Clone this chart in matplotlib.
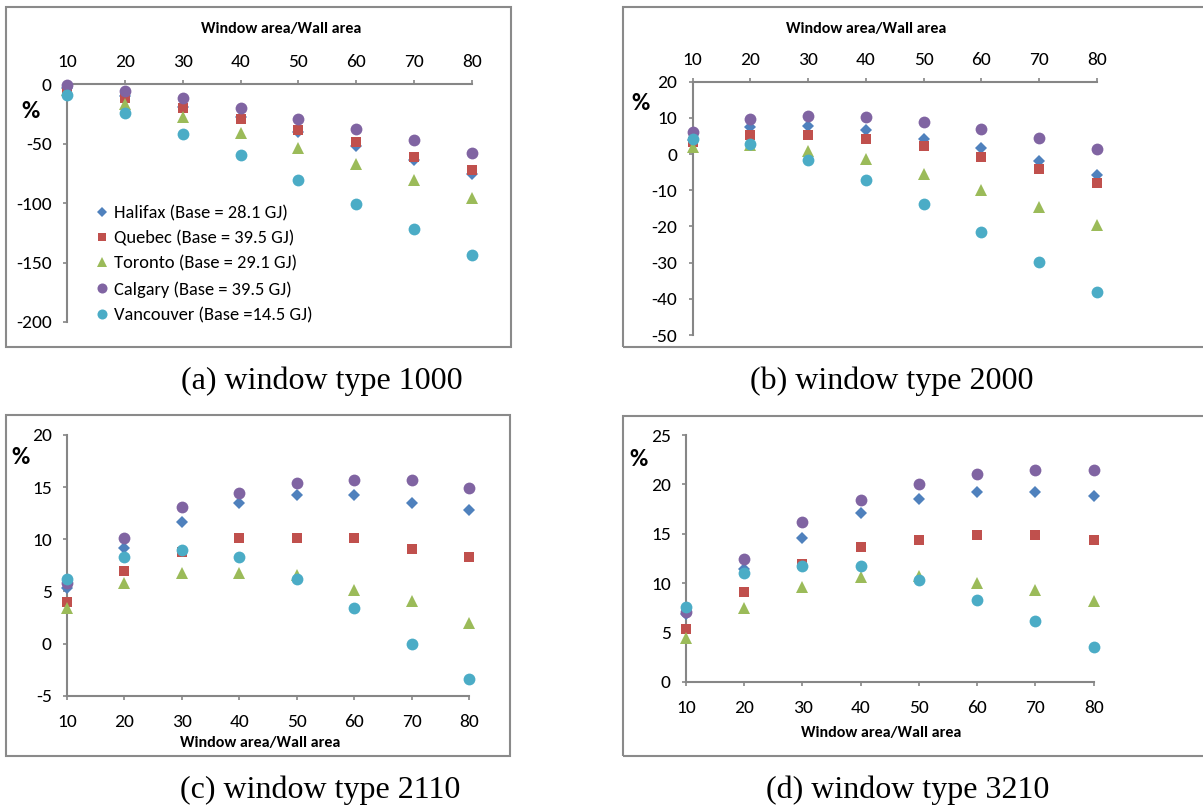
import matplotlib
matplotlib.use("Agg")
import matplotlib.pyplot as plt
from matplotlib.patches import Rectangle

W, H = 1203, 808
plt.rcParams['font.family'] = ['Carlito', 'Lato', 'DejaVu Sans']
plt.rcParams['axes.unicode_minus'] = False

x = [10, 20, 30, 40, 50, 60, 70, 80]
cities = ["Halifax (Base = 28.1 GJ)", "Quebec (Base = 39.5 GJ)", "Toronto (Base = 29.1 GJ)",
          "Calgary (Base = 39.5 GJ)", "Vancouver (Base =14.5 GJ)"]

# (a) window type 1000
a_halifax = [-3, -10, -19, -28, -40, -52, -64, -76]
a_quebec = [-4, -12, -20, -29, -39, -49, -61, -72]
a_toronto = [-5, -17, -28, -41, -54, -67, -81, -96]
a_calgary = [-1, -6, -12, -20, -29, -38, -47, -58]
a_vancouver = [-9, -24, -42, -60, -81, -101, -122, -144]

# (b) window type 2000
b_halifax = [4, 7.5, 7.8, 6.6, 4.2, 1.7, -1.9, -5.7]
b_quebec = [3.3, 5.2, 5.2, 4.1, 2.1, -0.9, -4.0, -7.9]
b_toronto = [2.0, 2.4, 0.9, -1.5, -5.5, -9.8, -14.5, -19.7]
b_calgary = [6.0, 9.6, 10.6, 10.3, 9.0, 7.0, 4.5, 1.4]
b_vancouver = [4.2, 2.7, -1.6, -7.1, -13.9, -21.5, -29.8, -38.1]

# (c) window type 2110
c_halifax = [5.3, 9.2, 11.7, 13.5, 14.2, 14.2, 13.5, 12.8]
c_quebec = [4.0, 7.0, 8.8, 10.1, 10.1, 10.1, 9.1, 8.3]
c_toronto = [3.4, 5.8, 6.8, 6.8, 6.6, 5.1, 4.1, 2.0]
c_calgary = [5.8, 10.1, 13.1, 14.4, 15.4, 15.7, 15.7, 14.9]
c_vancouver = [6.2, 8.3, 9.0, 8.3, 6.2, 3.4, 0.0, -3.4]

# (d) window type 3210
d_halifax = [6.9, 11.4, 14.6, 17.1, 18.5, 19.2, 19.2, 18.8]
d_quebec = [5.3, 9.1, 11.9, 13.7, 14.4, 14.9, 14.9, 14.4]
d_toronto = [4.4, 7.5, 9.6, 10.6, 10.7, 10.0, 9.3, 8.2]
d_calgary = [7.1, 12.4, 16.2, 18.4, 20.0, 21.0, 21.5, 21.5]
d_vancouver = [7.6, 11.0, 11.7, 11.7, 10.3, 8.3, 6.2, 3.5]

panels = [
    dict(series=[a_halifax, a_quebec, a_toronto, a_calgary, a_vancouver],
         box=(67, 472, 84, 322), ylim=(-200, 0), yticks=[0, -50, -100, -150, -200],
         top=True, frame=(6, 7, 511, 347), cap="(a) window type 1000", capxy=(322, 381),
         pct=(31, 112), xl=(281, 29)),
    dict(series=[b_halifax, b_quebec, b_toronto, b_calgary, b_vancouver],
         box=(692.7, 1096.7, 81.7, 335), ylim=(-50, 20), yticks=[20, 10, 0, -10, -20, -30, -40, -50],
         top=True, frame=(623, 7, 1215, 347), cap="(b) window type 2000", capxy=(892, 381),
         pct=(641, 103), xl=(866, 29)),
    dict(series=[c_halifax, c_quebec, c_toronto, c_calgary, c_vancouver],
         box=(67, 469, 435, 695.7), ylim=(-5, 20), yticks=[20, 15, 10, 5, 0, -5],
         top=False, frame=(6, 415, 510, 756), cap="(c) window type 2110", capxy=(320, 790),
         pct=(21, 458), xl=(260, 743)),
    dict(series=[d_halifax, d_quebec, d_toronto, d_calgary, d_vancouver],
         box=(686, 1093.7, 435, 681.7), ylim=(0, 25), yticks=[25, 20, 15, 10, 5, 0],
         top=False, frame=(623, 416, 1215, 756), cap="(d) window type 3210", capxy=(908, 790),
         pct=(638, 460), xl=(881, 733)),
]

colors = ["#4F81BD", "#C0504D", "#9BBB59", "#8064A2", "#4BACC6"]
markers = ["D", "s", "^", "o", "o"]
msizes = [6.0, 7.5, 8.0, 8.5, 8.5]
axis_gray = "#868686"

fig = plt.figure(figsize=(W / 100, H / 100), dpi=100)

for i, p in enumerate(panels):
    l, r, t, b = p["box"]
    ax = fig.add_axes([l / W, 1 - b / H, (r - l) / W, (b - t) / H])
    ax.set_xlim(10, 80)
    ax.set_ylim(*p["ylim"])
    ax.set_xticks(x)
    ax.set_yticks(p["yticks"])
    for k, s in enumerate(p["series"]):
        ax.plot(x, s, linestyle="none", marker=markers[k], color=colors[k],
                markersize=msizes[k], markeredgewidth=0, clip_on=False, zorder=3,
                label=cities[k])
    for sp in ax.spines.values():
        sp.set_visible(False)
    ax.spines["left"].set_visible(True)
    ax.spines["left"].set_color(axis_gray)
    ax.spines["left"].set_linewidth(1.5)
    if p["top"]:
        ax.xaxis.tick_top()
        sx = ax.spines["top"]
        xpad = 7
    else:
        sx = ax.spines["bottom"]
        xpad = 10
    sx.set_visible(True)
    sx.set_color(axis_gray)
    sx.set_linewidth(1.5)
    ax.tick_params(axis="both", direction="out", length=3, width=1.2, color=axis_gray,
                   labelsize=14, labelcolor="black")
    ax.tick_params(axis="x", pad=xpad)
    ax.tick_params(axis="y", pad=8)
    ax.patch.set_alpha(0)

    fx0, fy0, fx1, fy1 = p["frame"]
    fig.patches.append(Rectangle((fx0 / W, 1 - fy1 / H), (fx1 - fx0) / W, (fy1 - fy0) / H,
                                 transform=fig.transFigure, fill=False,
                                 edgecolor="#8a8a8a", linewidth=1.5))
    fig.text(p["pct"][0] / W, 1 - p["pct"][1] / H, "%", fontsize=18, fontweight="bold",
             ha="center", va="center")
    fig.text(p["xl"][0] / W, 1 - p["xl"][1] / H, "Window area/Wall area", fontsize=11.5,
             fontweight="bold", ha="center", va="center")
    fig.text(p["capxy"][0] / W, 1 - p["capxy"][1] / H, p["cap"], fontsize=23,
             family="Liberation Serif", ha="center", va="center")

    if i == 0:
        ax.legend(loc="upper left", bbox_to_anchor=((97 - l) / (r - l), (b - 205) / (b - t)),
                  frameon=False, fontsize=13.3, handlelength=0.5, handletextpad=0.4,
                  labelspacing=0.5, borderaxespad=0, borderpad=0, markerscale=0.85)

fig.savefig("out.png", dpi=100)
